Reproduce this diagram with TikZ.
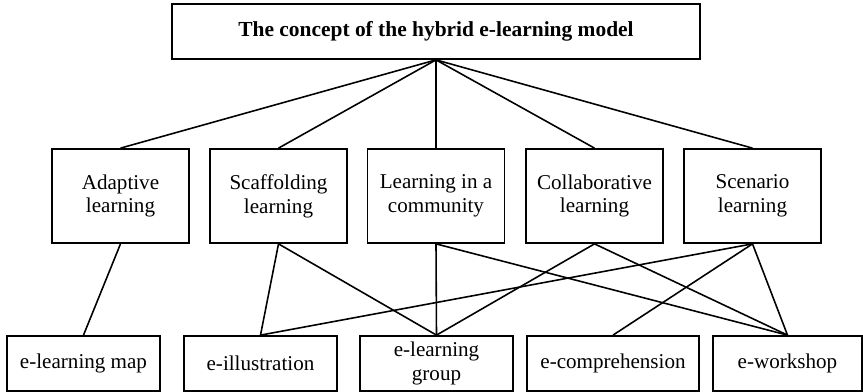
\documentclass[tikz,border=0pt]{standalone}
\usepackage{fontspec}
\setmainfont{Liberation Serif}
\tikzset{
  box/.style={draw, line width=1pt, inner sep=0pt, align=center, font=\fontsize{12}{13.5}\selectfont},
  topbox/.style={box, minimum width=10.56cm, minimum height=1.1cm, font=\fontsize{12.2}{13.5}\selectfont\bfseries},
  midbox/.style={box, minimum width=2.74cm, minimum height=1.88cm},
  botbox/.style={box, minimum height=1.1cm},
  link/.style={line width=0.9pt}
}
\begin{document}
\begin{tikzpicture}[x=0.02cm, y=-0.02cm]
      \useasboundingbox (0,0) rectangle (863,392);
      \node[topbox] (concept) at (436,31.5) {The concept of the hybrid e-learning model};
      \node[midbox] (adapt) at (120.5,196) {Adaptive\\learning};
      \node[midbox] (scaff) at (278.5,196) {Scaffolding\\learning};
      \node[midbox] (comm) at (436,196) {Learning in a\\community};
      \node[midbox] (collab) at (594.5,196) {Collaborative\\learning};
      \node[midbox] (scen) at (752.5,196) {Scenario\\learning};
      \node[botbox, minimum width=3.06cm] (map) at (83.5,363.5) {e-learning map};
      \node[botbox, minimum width=3.06cm] (illus) at (260.5,363.5) {e-illustration};
      \node[botbox, minimum width=3.06cm] (group) at (436.5,363.5) {e-learning\\group};
      \node[botbox, minimum width=3.44cm] (compr) at (613,363.5) {e-comprehension};
      \node[botbox, minimum width=2.98cm] (work) at (787.5,363.5) {e-workshop};
      \foreach \m in {adapt, scaff, comm, collab, scen}
            \draw[link] (concept.south) -- (\m.north);
      \draw[link] (adapt.south) -- (map.north);
      \draw[link] (scaff.south) -- (illus.north);
      \draw[link] (scaff.south) -- (group.north);
      \draw[link] (comm.south) -- (group.north);
      \draw[link] (comm.south) -- (work.north);
      \draw[link] (collab.south) -- (group.north);
      \draw[link] (collab.south) -- (work.north);
      \draw[link] (scen.south) -- (illus.north);
      \draw[link] (scen.south) -- (compr.north);
      \draw[link] (scen.south) -- (work.north);
\end{tikzpicture}
\end{document}
